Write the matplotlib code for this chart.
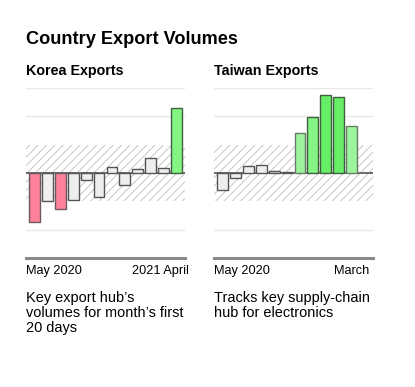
import numpy as np
import matplotlib.pyplot as plt

# monthly export volumes, in standard deviations from the mean
korea_values = [-1.74, -0.98, -1.27, -0.95, -0.26, -0.85, 0.20, -0.41, 0.15, 0.54, 0.19, 2.30]
taiwan_values = [-0.60, -0.19, 0.24, 0.30, 0.06, 0.02, 1.41, 1.99, 2.74, 2.69, 1.65]

korea_labels = ["May 2020", "2021 April"]
taiwan_labels = ["May 2020", "March"]
korea_note = ["Key export hub\u2019s", "volumes for month\u2019s first", "20 days"]
taiwan_note = ["Tracks key supply-chain", "hub for electronics"]

plt.rcParams['font.family'] = ['Liberation Sans', 'DejaVu Sans']
plt.rcParams['hatch.linewidth'] = 0.6

W, H = 415, 387


def bar_style(v):
    if v <= -1:
        return "#ff8099", "#6e5a5e"
    if v >= 2.5:
        return "#66ee66", "#3f5f3f"
    if v >= 1.8:
        return "#84f484", "#3f5f3f"
    if v >= 1:
        return "#9cf59c", "#6a7a6a"
    return "#eeeeee", "#555555"


def panel(left, values):
    ax = fig.add_axes([left / W, 1 - 258 / H, 159 / W, 170 / H])
    ax.set_xlim(-0.67, 11.67)
    ax.set_ylim(-3, 3)
    ax.axhspan(-1, 1, facecolor="none", edgecolor="#bdbdbd", linewidth=0, hatch="////", zorder=1)
    for g in [-2, 2, 3]:
        ax.axhline(g, color="#e8e8e8", linewidth=1, zorder=0)
    ax.axhline(0, color="#6a6a6a", linewidth=1.4, zorder=2)
    ax.axhline(-3, color="#8a8a8a", linewidth=2.2, zorder=3, clip_on=False)
    x = np.arange(len(values))
    for xi, v in zip(x, values):
        fc, ec = bar_style(v)
        ax.bar(xi, v, width=0.83, color=fc, edgecolor=ec, linewidth=1, zorder=3)
    ax.axis("off")
    return ax


fig = plt.figure(figsize=(W / 100, H / 100), dpi=100)
panel(26, korea_values)
panel(214, taiwan_values)

def fy(py):
    return 1 - py / H

fig.text(26 / W, fy(44), "Country Export Volumes", fontsize=13.1, fontweight="bold", va="baseline")
fig.text(26 / W, fy(75), "Korea Exports", fontsize=10.3, fontweight="bold", va="baseline")
fig.text(214 / W, fy(75), "Taiwan Exports", fontsize=10.3, fontweight="bold", va="baseline")

fig.text(26 / W, fy(274), korea_labels[0], fontsize=9.2, va="baseline")
fig.text(189 / W, fy(274), korea_labels[1], fontsize=9.2, va="baseline", ha="right")
fig.text(214 / W, fy(274), taiwan_labels[0], fontsize=9.2, va="baseline")
fig.text(369 / W, fy(274), taiwan_labels[1], fontsize=9.2, va="baseline", ha="right")

for i, line in enumerate(korea_note):
    fig.text(26 / W, fy(301.7 + 15.2 * i), line, fontsize=10.45, va="baseline")
for i, line in enumerate(taiwan_note):
    fig.text(214 / W, fy(301.7 + 15.2 * i), line, fontsize=10.45, va="baseline")

fig.savefig("out.png", dpi=100)
